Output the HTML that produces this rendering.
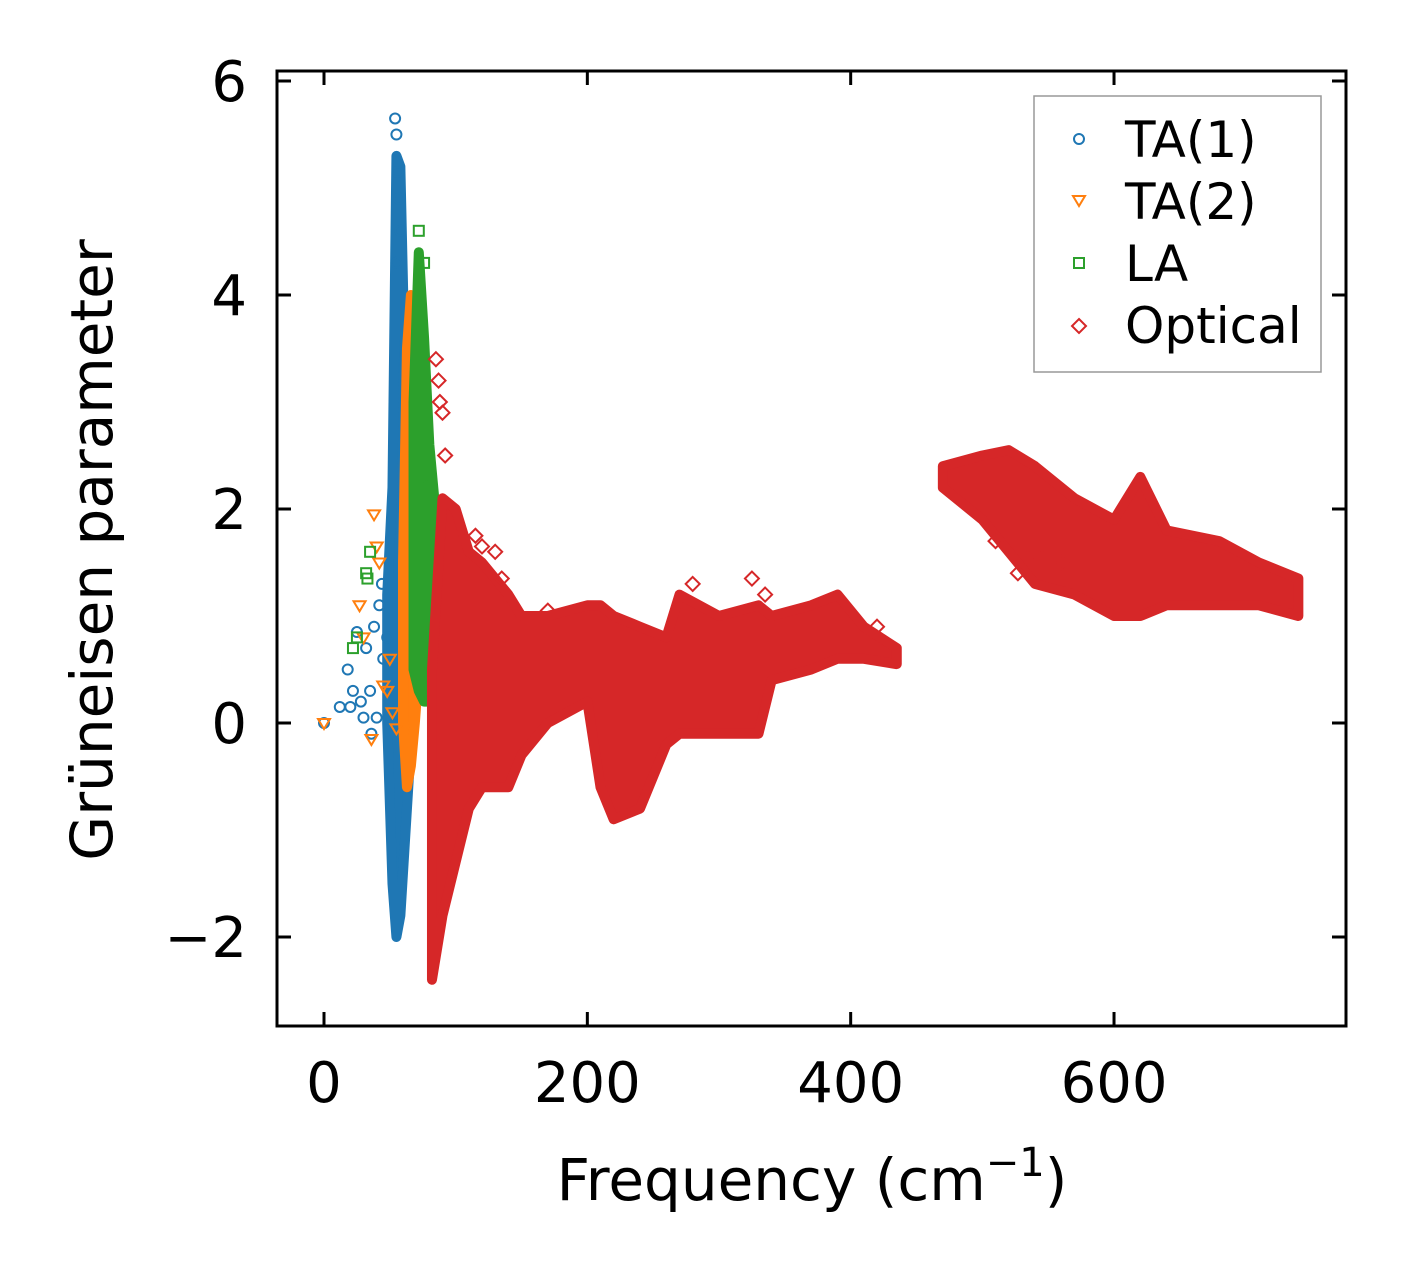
<!DOCTYPE html>
<html><head><meta charset="utf-8"><style>
body{margin:0;background:#fff}
svg text{font-family:"DejaVu Sans","Liberation Sans",sans-serif;fill:#000}
</style></head><body>
<svg id="chart" width="1406" height="1275" viewBox="0 0 1406 1275" xmlns="http://www.w3.org/2000/svg">
<rect x="0" y="0" width="1406" height="1275" fill="#fff"/>
<g id="marks"></g>
<rect x="277" y="71" width="1069" height="955" fill="none" stroke="#000" stroke-width="3"/>
<g id="ticks"></g>
<text x="812" y="1200" font-size="58" text-anchor="middle">Frequency (cm<tspan font-size="40" dy="-24">−1</tspan><tspan dy="24">)</tspan></text>
<text transform="translate(112,550) rotate(-90)" font-size="58" text-anchor="middle">Grüneisen parameter</text>
<g>
<rect x="1034" y="96" width="287" height="276" fill="#fff" stroke="#999" stroke-width="1.5"/>
<circle cx="1079" cy="139" r="5" fill="none" stroke="#1f77b4" stroke-width="2"/>
<text x="1125" y="157" font-size="50">TA(1)</text>
<path d="M1073 196 L1085 196 L1079 206 Z" fill="none" stroke="#ff7f0e" stroke-width="2"/>
<text x="1125" y="219" font-size="50">TA(2)</text>
<rect x="1074" y="258" width="10" height="10" fill="none" stroke="#2ca02c" stroke-width="2"/>
<text x="1125" y="281" font-size="50">LA</text>
<path d="M1079 319 L1086 326 L1079 333 L1072 326 Z" fill="none" stroke="#d62728" stroke-width="2"/>
<text x="1125" y="343" font-size="50">Optical</text>
</g>
</svg>
<script>
const xTicks=[0,200,400,600];
const yTicks=[-2,0,2,4,6];
// dense cloud envelopes: frequency, low, high
const ta1Freq=[48,52,55,58,62,66,68];
const ta1Low=[0.0,-1.5,-2.0,-1.8,-1.0,-0.2,0.3];
const ta1High=[1.2,2.2,5.3,5.2,3.0,2.0,1.2];
const ta2Freq=[60,63,66,69,72];
const ta2Low=[0.0,-0.6,-0.4,0.0,0.5];
const ta2High=[1.5,3.5,4.0,3.8,2.5];
const laFreq=[68,72,76,80,86];
const laLow=[0.5,0.3,0.2,0.2,0.3];
const laHigh=[3.0,4.4,3.6,2.6,1.8];
const optFreq=[82,90,100,110,120,140,150,170,200,210,220,240,260,270,300,330,340,370,390,410,435];
const optLow=[-2.4,-1.8,-1.3,-0.8,-0.6,-0.6,-0.3,0.0,0.2,-0.6,-0.9,-0.8,-0.2,-0.1,-0.1,-0.1,0.4,0.5,0.6,0.6,0.55];
const optHigh=[0.5,2.1,2.0,1.6,1.5,1.2,1.0,1.0,1.1,1.1,1.0,0.9,0.8,1.2,1.0,1.1,1.0,1.1,1.2,0.9,0.7];
const opt2Freq=[470,500,520,540,570,600,620,640,680,710,740];
const opt2Low=[2.2,1.9,1.6,1.3,1.2,1.0,1.0,1.1,1.1,1.1,1.0];
const opt2High=[2.4,2.5,2.55,2.4,2.1,1.9,2.3,1.8,1.7,1.5,1.35];
// scattered points
const ta1ScatterX=[0,12,18,22,25,28,32,35,38,40,42,45,48,36,30,20,44,55,56,57,54,58,55];
const ta1ScatterY=[0,0.15,0.5,0.3,0.85,0.2,0.7,0.3,0.9,0.05,1.1,0.6,0.8,-0.1,0.05,0.15,1.3,5.5,5.15,4.9,5.65,4.6,4.3];
const ta2ScatterX=[0,27,30,36,38,40,42,45,48,50,52,55];
const ta2ScatterY=[0,1.1,0.8,-0.15,1.95,1.65,1.5,0.35,0.3,0.6,0.1,-0.05];
const laScatterX=[22,25,32,33,35,72,76,80,85,87];
const laScatterY=[0.7,0.8,1.4,1.35,1.6,4.6,4.3,2.3,0.2,0.5];
const optScatterX=[85,87,88,90,92,115,120,130,135,170,280,325,335,420,527,510,540,560];
const optScatterY=[3.4,3.2,3.0,2.9,2.5,1.75,1.65,1.6,1.35,1.05,1.3,1.35,1.2,0.9,1.4,1.7,1.6,1.5];

const X=f=>324+f*1.3167;
const Y=g=>723-g*107;
const NS="http://www.w3.org/2000/svg";
const marks=document.getElementById('marks');
const ticks=document.getElementById('ticks');

function band(fr,lo,hi,color,name){
  let pts=[];
  for(let i=0;i<fr.length;i++)pts.push(X(fr[i])+','+Y(hi[i]));
  for(let i=fr.length-1;i>=0;i--)pts.push(X(fr[i])+','+Y(lo[i]));
  const p=document.createElementNS(NS,'polygon');
  p.setAttribute('points',pts.join(' '));
  p.setAttribute('fill',color);
  p.setAttribute('stroke',color);
  p.setAttribute('stroke-width','10');
  p.setAttribute('stroke-linejoin','round');
  
  
  marks.appendChild(p);
}
function marker(type,f,g,color,name){
  const cx=X(f),cy=Y(g);let el;
  if(type==='o'){el=document.createElementNS(NS,'circle');el.setAttribute('cx',cx);el.setAttribute('cy',cy);el.setAttribute('r',5);}
  else if(type==='v'){el=document.createElementNS(NS,'path');el.setAttribute('d',`M${cx-6} ${cy-4} L${cx+6} ${cy-4} L${cx} ${cy+6} Z`);}
  else if(type==='s'){el=document.createElementNS(NS,'rect');el.setAttribute('x',cx-5);el.setAttribute('y',cy-5);el.setAttribute('width',10);el.setAttribute('height',10);}
  else {el=document.createElementNS(NS,'path');el.setAttribute('d',`M${cx} ${cy-7} L${cx+7} ${cy} L${cx} ${cy+7} L${cx-7} ${cy} Z`);}
  el.setAttribute('fill','none');el.setAttribute('stroke',color);el.setAttribute('stroke-width','2');
  
  
  marks.appendChild(el);
}
band(ta1Freq,ta1Low,ta1High,'#1f77b4','ta1-cloud');
ta1ScatterX.forEach((f,i)=>marker('o',f,ta1ScatterY[i],'#1f77b4','ta1-point'));
band(ta2Freq,ta2Low,ta2High,'#ff7f0e','ta2-cloud');
ta2ScatterX.forEach((f,i)=>marker('v',f,ta2ScatterY[i],'#ff7f0e','ta2-point'));
band(laFreq,laLow,laHigh,'#2ca02c','la-cloud');
laScatterX.forEach((f,i)=>marker('s',f,laScatterY[i],'#2ca02c','la-point'));
band(optFreq,optLow,optHigh,'#d62728','optical-cloud-low');
band(opt2Freq,opt2Low,opt2High,'#d62728','optical-cloud-high');
optScatterX.forEach((f,i)=>marker('d',f,optScatterY[i],'#d62728','optical-point'));

function line(x1,y1,x2,y2,name){
  const l=document.createElementNS(NS,'line');
  l.setAttribute('x1',x1);l.setAttribute('y1',y1);l.setAttribute('x2',x2);l.setAttribute('y2',y2);
  l.setAttribute('stroke','#000');l.setAttribute('stroke-width','3');
  
  
  ticks.appendChild(l);
}
function label(x,y,s,anchor,name){
  const t=document.createElementNS(NS,'text');
  t.setAttribute('x',x);t.setAttribute('y',y);t.setAttribute('font-size','56');t.setAttribute('text-anchor',anchor);
  t.textContent=s;
  
  
  ticks.appendChild(t);
}
xTicks.forEach(v=>{const x=X(v);line(x,1026,x,1012,'x-tick');line(x,71,x,85,'x-tick-top');label(x,1102,String(v),'middle','x-tick-label');});
yTicks.forEach(v=>{const y=Y(v);line(277,y,291,y,'y-tick');line(1346,y,1332,y,'y-tick-right');label(247,y+20,v<0?'−'+Math.abs(v):String(v),'end','y-tick-label');});
</script>
</body></html>
